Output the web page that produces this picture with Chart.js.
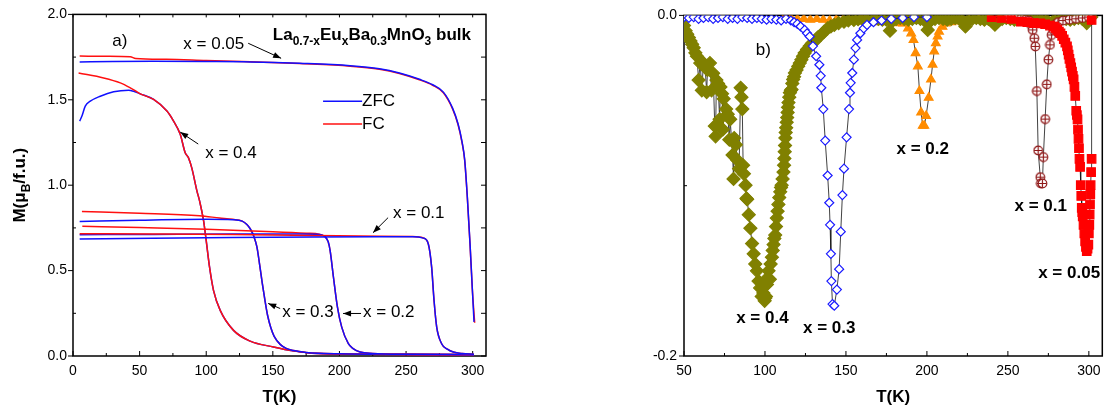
<!DOCTYPE html>
<html>
<head>
<meta charset="utf-8">
<title>La0.7-xEuxBa0.3MnO3 M(T) and dM/dT</title>
<script src="https://cdn.jsdelivr.net/npm/chart.js@4.4.1/dist/chart.umd.min.js"></script>
<style>
  html, body { margin: 0; padding: 0; background: #fff; }
  #wrap { position: relative; width: 1110px; height: 410px; overflow: hidden; }
  #magChart { position: absolute; left: 0; top: 0; }
  #derivChart { position: absolute; left: 540px; top: 0; }
</style>
</head>
<body>
<div id="wrap">
  <canvas id="magChart" width="500" height="410"></canvas>
  <canvas id="derivChart" width="570" height="410"></canvas>
</div>
<script>
// ---- panel a) magnetisation M(T), ZFC / FC ----
const tZfc005 = [5, 30, 60, 100, 133, 170, 208, 230, 245, 260, 270, 278, 285, 289, 292, 294, 296, 298, 299.7, 301];
const mZfc005 = [1.722, 1.724, 1.725, 1.724, 1.722, 1.714, 1.700, 1.682, 1.657, 1.620, 1.588, 1.545, 1.450, 1.360, 1.255, 1.150, 0.930, 0.660, 0.400, 0.200];
const tFc005 = [5, 25, 43, 47, 70, 100, 133, 170, 208, 230, 245, 260, 270, 278, 285, 289, 292, 294, 296, 298, 299.7, 301.5];
const mFc005 = [1.756, 1.755, 1.752, 1.742, 1.737, 1.730, 1.723, 1.712, 1.697, 1.679, 1.654, 1.617, 1.585, 1.541, 1.445, 1.355, 1.250, 1.145, 0.925, 0.655, 0.395, 0.195];

const tZfc01 = [5, 60, 120, 180, 230, 255, 263, 266.7, 269.2, 271, 273, 276.7, 281, 285.5, 292, 301];
const mZfc01 = [0.685, 0.690, 0.694, 0.697, 0.698, 0.698, 0.690, 0.656, 0.520, 0.325, 0.169, 0.072, 0.040, 0.023, 0.014, 0.010];
const tFc01 = [5, 60, 120, 180, 230, 255, 263, 266.7, 269.2, 271, 273, 276.7, 281, 285.5, 292, 301];
const mFc01 = [0.716, 0.714, 0.711, 0.706, 0.701, 0.699, 0.691, 0.656, 0.520, 0.325, 0.169, 0.072, 0.040, 0.023, 0.014, 0.010];

const tZfc02 = [5, 60, 120, 170, 185, 189, 191.5, 193, 195.5, 198.5, 201.7, 206.7, 210, 215.5, 225, 250, 301];
const mZfc02 = [0.710, 0.712, 0.714, 0.714, 0.712, 0.700, 0.670, 0.617, 0.461, 0.286, 0.169, 0.072, 0.045, 0.023, 0.015, 0.010, 0.008];
const tFc02 = [7, 50, 100, 150, 175, 185, 189, 191.5, 193, 195.5, 198.5, 201.7, 206.7, 210, 215.5, 225, 250, 301];
const mFc02 = [0.760, 0.752, 0.742, 0.728, 0.719, 0.713, 0.700, 0.670, 0.617, 0.461, 0.286, 0.169, 0.072, 0.045, 0.023, 0.015, 0.010, 0.008];

const tZfc03 = [5, 50, 100, 120, 127, 130.5, 133, 135.5, 138, 140, 142, 144, 146, 148.5, 151, 155.5, 160, 165.5, 175, 200, 250, 301];
const mZfc03 = [0.788, 0.795, 0.800, 0.798, 0.790, 0.770, 0.745, 0.705, 0.640, 0.540, 0.430, 0.330, 0.240, 0.165, 0.115, 0.068, 0.045, 0.032, 0.021, 0.013, 0.010, 0.008];
const tFc03 = [6.7, 50, 95, 110, 120, 127, 130.5, 133, 135.5, 138, 140, 142, 144, 146, 148.5, 151, 155.5, 160, 165.5, 175, 200, 250, 301];
const mFc03 = [0.846, 0.836, 0.821, 0.808, 0.800, 0.790, 0.770, 0.745, 0.705, 0.640, 0.540, 0.430, 0.330, 0.240, 0.165, 0.115, 0.068, 0.045, 0.032, 0.021, 0.013, 0.010, 0.008];

const tZfc04 = [5, 6.7, 9.2, 13, 20.5, 30.5, 41.7, 45.5, 50.5, 60.5, 70.5, 75.5, 80.5, 84.2, 86.7, 89.2, 93, 95, 98, 100, 102.5, 105.5, 110.5, 120.5, 133, 150.5, 165, 183, 220, 260, 301];
const mZfc04 = [1.375, 1.405, 1.463, 1.492, 1.521, 1.547, 1.556, 1.550, 1.535, 1.502, 1.434, 1.375, 1.298, 1.190, 1.160, 1.100, 0.967, 0.908, 0.792, 0.675, 0.520, 0.383, 0.267, 0.150, 0.087, 0.053, 0.030, 0.014, 0.010, 0.008, 0.006];
const tFc04 = [4.2, 23, 35.5, 43, 48, 50.5, 60.5, 70.5, 75.5, 80.5, 84.2, 86.7, 89.2, 93, 95, 98, 100, 102.5, 105.5, 110.5, 120.5, 133, 150.5, 165, 183, 220, 260, 301];
const mFc04 = [1.657, 1.628, 1.599, 1.570, 1.547, 1.535, 1.502, 1.434, 1.375, 1.298, 1.190, 1.160, 1.100, 0.967, 0.908, 0.792, 0.675, 0.520, 0.383, 0.267, 0.150, 0.087, 0.053, 0.030, 0.014, 0.010, 0.008, 0.006];

// ---- panel b) dM/dT ----
const tD005 = [240, 246, 252, 258, 262, 266, 270, 273, 276, 278.4, 279.5, 280.5, 281.5, 282.5, 283.5, 284.5, 285.5, 286.5, 287, 287.5, 288, 288.6, 289.1, 289.6, 290.1, 290.6, 291.1, 291.6, 292.2, 292.6, 293, 293.3, 293.6, 293.9, 294.2, 294.6, 295, 295.3, 295.6, 295.9, 296.2, 296.7, 297.2, 297.7, 298.2, 298.7, 299.2, 299.7, 300, 300.3, 300.5, 300.7, 300.9, 301.1, 301.4, 301.7, 301.7];
const dD005 = [-0.001, -0.0015, -0.002, -0.0037, -0.004, -0.0045, -0.0047, -0.0052, -0.006, -0.0066, -0.0075, -0.0085, -0.0095, -0.0105, -0.012, -0.014, -0.016, -0.0182, -0.0205, -0.023, -0.0255, -0.028, -0.0305, -0.033, -0.0355, -0.0376, -0.042, -0.0473, -0.056, -0.0585, -0.061, -0.067, -0.0725, -0.078, -0.0842, -0.089, -0.0997, -0.106, -0.113, -0.1155, -0.118, -0.123, -0.128, -0.1327, -0.136, -0.1385, -0.137, -0.1346, -0.128, -0.123, -0.117, -0.111, -0.105, -0.0997, -0.092, -0.0842, -0.0027];

const tD01 = [250, 254, 258, 261, 263, 264.3, 265.3, 266.3, 266.9, 267.9, 268.7, 270, 270.4, 271.3, 271.9, 273, 274, 275, 276, 277, 278, 279, 281, 284, 288, 292, 296, 300];
const dD01 = [-0.001, -0.0015, -0.002, -0.0025, -0.003, -0.0056, -0.0085, -0.0134, -0.0182, -0.0444, -0.0793, -0.095, -0.0987, -0.0987, -0.0832, -0.0609, -0.0405, -0.026, -0.0173, -0.0115, -0.0085, -0.0056, -0.004, -0.003, -0.0025, -0.002, -0.0015, -0.001];

const tD02 = [112, 116, 120, 124, 128, 132, 136, 140, 144, 148, 152, 156, 160, 164, 168, 172, 176, 180, 183, 185.3, 188.3, 190.3, 191.7, 193, 194.4, 195.4, 196.4, 197.4, 198.4, 199.5, 201.1, 202.5, 203.5, 204.5, 205.5, 206.6, 207.5, 209.6, 211.6, 215, 220, 226, 232, 238, 245];
const dD02 = [-0.001, -0.0015, -0.002, -0.002, -0.0025, -0.002, -0.0025, -0.003, -0.0025, -0.003, -0.003, -0.0035, -0.003, -0.0035, -0.004, -0.0035, -0.004, -0.004, -0.0045, -0.0047, -0.0076, -0.0105, -0.0144, -0.0221, -0.0299, -0.0444, -0.057, -0.0648, -0.0648, -0.059, -0.0483, -0.0376, -0.0289, -0.0211, -0.0163, -0.0124, -0.0095, -0.0066, -0.0047, -0.004, -0.0035, -0.003, -0.0025, -0.002, -0.0015];

const tD03 = [50, 53, 56, 59, 62, 65, 68, 71, 74, 77, 80, 83, 86, 89, 92, 95, 98, 101, 104, 107, 110, 113, 116, 118, 120, 122, 124.5, 126, 127.6, 129.6, 131.6, 133.6, 134.4, 134.8, 136, 137.2, 138.7, 139.7, 140.2, 140.7, 141, 141.7, 142.8, 144.4, 145.8, 146.8, 147.8, 148.8, 150.4, 151.9, 152.5, 152.9, 153.9, 154.9, 155.9, 156.9, 158.9, 161, 163, 167, 172, 178, 185, 192, 200];
const dD03 = [-0.001, -0.0015, -0.001, -0.002, -0.0015, -0.001, -0.002, -0.0015, -0.001, -0.002, -0.0015, -0.002, -0.001, -0.0015, -0.002, -0.0015, -0.002, -0.0025, -0.002, -0.0025, -0.003, -0.002, -0.003, -0.004, -0.005, -0.0065, -0.0085, -0.0105, -0.0124, -0.018, -0.024, -0.029, -0.0355, -0.0425, -0.055, -0.0735, -0.094, -0.11, -0.123, -0.14, -0.156, -0.1695, -0.1705, -0.161, -0.149, -0.127, -0.1055, -0.09, -0.0716, -0.055, -0.0454, -0.0396, -0.0338, -0.026, -0.0192, -0.0144, -0.0105, -0.0076, -0.0056, -0.004, -0.003, -0.002, -0.0015, -0.001, -0.001];

// x = 0.4: noisy left branch, dense right branch, then the flat band near zero
const tD04 = [50, 51, 52, 53, 54, 55, 56, 57, 58, 59, 60, 61, 62, 63, 64, 64.5, 66, 67, 68, 69, 69.5, 70, 71, 72, 72.5, 73.5, 74, 74.5, 76, 77, 78, 78.5, 80, 80.6, 81, 82, 83, 84, 85, 85.5, 86, 86.5, 87, 88, 88.6, 89, 90, 91, 92, 93, 94, 95, 96, 97, 98, 99, 99.8,
  100.2, 100.6, 101.2, 101.7, 102.2, 103, 103.5, 104.3, 104.8, 105.3, 105.8, 106.3, 106.8, 107.3, 107.8, 108.3, 108.8, 109.4, 109.9, 110.3, 110.9, 111.4, 111.8, 112, 112.2, 112.4, 112.6, 112.8, 113.1, 113.4, 113.7, 114, 114.2, 114.5, 115, 115.4, 116, 116.4, 116.9, 117.4, 118, 118.5, 119.5, 120.5, 121.5, 122.5, 123.5, 124.5, 126, 127.6, 129, 130.6, 132.5, 134.6, 136.5, 138.7, 140.7, 142.8, 145.5, 148.8, 151.5, 154.9,
  157.5, 160, 162.5, 165, 167.5, 170, 172.5, 175, 177.2, 179, 181, 183.5, 186, 188.5, 191, 193.5, 196, 198.5, 200.5, 202.5, 205, 207.5, 210, 212.5, 215, 217.5, 220, 222, 223.8, 225.5, 228, 230.5, 233, 235.5, 238, 240, 242, 244, 246.5, 249, 251.5, 254, 256.5, 259, 261.5, 264, 266.5, 269, 271.5, 274, 276.4, 278.5, 281, 283.5, 286, 288.5, 291, 293.5, 296, 298.7, 301.5];
const dD04 = [-0.006, -0.009, -0.011, -0.013, -0.015, -0.017, -0.019, -0.022, -0.024, -0.038, -0.028, -0.044, -0.028, -0.03, -0.045, -0.032, -0.028, -0.044, -0.034, -0.065, -0.071, -0.038, -0.04, -0.061, -0.042, -0.046, -0.067, -0.049, -0.055, -0.058, -0.073, -0.061, -0.082, -0.096, -0.072, -0.076, -0.085, -0.09, -0.0425, -0.048, -0.055, -0.088, -0.093, -0.0997, -0.1075, -0.108, -0.117, -0.125, -0.134, -0.14, -0.146, -0.15, -0.156, -0.16, -0.165, -0.163, -0.1676,
  -0.166, -0.165, -0.158, -0.154, -0.15, -0.155, -0.146, -0.142, -0.138, -0.1346, -0.131, -0.129, -0.124, -0.119, -0.115, -0.111, -0.107, -0.1036, -0.101, -0.0997, -0.096, -0.092, -0.088, -0.084, -0.08, -0.0764, -0.072, -0.0687, -0.066, -0.0628, -0.06, -0.057, -0.054, -0.0512, -0.048, -0.0454, -0.044, -0.0435, -0.04, -0.0376, -0.036, -0.0338, -0.032, -0.0299, -0.028, -0.026, -0.024, -0.0221, -0.02, -0.018, -0.0165, -0.0153, -0.013, -0.0115, -0.0095, -0.0076, -0.0065, -0.0056, -0.0045, -0.0037, -0.003, -0.0027,
  -0.0022, -0.002, -0.0025, -0.0015, -0.002, -0.002, -0.0025, -0.0025, -0.009, -0.003, -0.002, -0.0015, -0.002, -0.0025, -0.002, -0.0015, -0.002, -0.003, -0.0085, -0.003, -0.002, -0.0015, -0.002, -0.0025, -0.002, -0.0015, -0.002, -0.003, -0.0065, -0.003, -0.002, -0.0015, -0.002, -0.0025, -0.002, -0.003, -0.0055, -0.003, -0.002, -0.0015, -0.002, -0.0025, -0.002, -0.0015, -0.002, -0.0025, -0.002, -0.0015, -0.002, -0.003, -0.0055, -0.003, -0.002, -0.0015, -0.002, -0.0025, -0.002, -0.0015, -0.002, -0.0045, -0.001];

// tick positions
const aMajorT = [0, 50, 100, 150, 200, 250, 300];
const aMinorT = [25, 75, 125, 175, 225, 275];
const aMajorM = [0, 0.5, 1.0, 1.5, 2.0];
const aMinorM = [0.25, 0.75, 1.25, 1.75];
const bMajorT = [50, 100, 150, 200, 250, 300];
const bMinorT = [75, 125, 175, 225, 275];
const bMajorD = [0, -0.2];
const bMinorD = [-0.1];

const FONT = "'Liberation Sans', Arial, Helvetica, sans-serif";
Chart.defaults.font.family = FONT;
Chart.defaults.color = '#000';

const pts = (xs, ys) => xs.map((x, i) => ({ x, y: ys[i] }));

const curve = (xs, ys, color) => ({
  data: pts(xs, ys),
  showLine: true,
  borderColor: color,
  borderWidth: 1.5,
  pointRadius: 0,
  cubicInterpolationMode: 'monotone',
  fill: false
});

const marks = (xs, ys, style, fillColor, edgeColor, radius, order) => ({
  data: pts(xs, ys),
  showLine: true,
  borderColor: '#111',
  borderWidth: 0.8,
  pointStyle: style,
  pointRadius: radius,
  pointBackgroundColor: fillColor,
  pointBorderColor: edgeColor,
  pointBorderWidth: 1.2,
  order: order
});

// circle with a cross, used for x = 0.1
function crossCircle() {
  const c = document.createElement('canvas');
  c.width = 11; c.height = 11;
  const g = c.getContext('2d');
  g.fillStyle = '#fff';
  g.strokeStyle = '#8e1616';
  g.lineWidth = 1.2;
  g.beginPath(); g.arc(5.5, 5.5, 4.3, 0, Math.PI * 2); g.fill(); g.stroke();
  g.beginPath();
  g.moveTo(1.5, 5.5); g.lineTo(9.5, 5.5);
  g.moveTo(5.5, 1.5); g.lineTo(5.5, 9.5);
  g.stroke();
  return c;
}

// frame + inward/outward ticks like the original plot
function framePlugin(cfg) {
  return {
    id: 'frame',
    beforeDatasetsDraw(chart) {
      const { ctx, chartArea: a } = chart;
      const xs = chart.scales.x, ys = chart.scales.y;
      const line = (x1, y1, x2, y2) => { ctx.beginPath(); ctx.moveTo(x1, y1); ctx.lineTo(x2, y2); ctx.stroke(); };
      ctx.save();
      ctx.strokeStyle = '#000';
      ctx.lineWidth = 1;
      cfg.xMajor.forEach(v => { const p = xs.getPixelForValue(v); line(p, a.bottom, p, a.bottom - 5); });
      cfg.xMinor.forEach(v => { const p = xs.getPixelForValue(v); line(p, a.bottom, p, a.bottom - 3); });
      cfg.yMajor.forEach(v => { const p = ys.getPixelForValue(v); line(a.left, p, a.left - 5, p); });
      cfg.yMinor.forEach(v => { const p = ys.getPixelForValue(v); line(a.left, p, a.left + 3, p); });
      if (cfg.mirror) {
        cfg.xMajor.concat(cfg.xMinor).forEach(v => { const p = xs.getPixelForValue(v); line(p, a.top, p, a.top + 3); });
        cfg.yMajor.concat(cfg.yMinor).forEach(v => { const p = ys.getPixelForValue(v); line(a.right, p, a.right - 5, p); });
      }
      ctx.lineWidth = 1.5;
      ctx.strokeRect(a.left, a.top, a.right - a.left, a.bottom - a.top);
      ctx.restore();
    }
  };
}

function drawRich(ctx, segs, x, y, size, subSize, weight) {
  let cx = x;
  segs.forEach(s => {
    ctx.font = `${weight} ${s.sub ? subSize : size}px ${FONT}`;
    ctx.fillText(s.t, cx, s.sub ? y + size * 0.3 : y);
    cx += ctx.measureText(s.t).width;
  });
  return cx - x;
}

function richWidth(ctx, segs, size, subSize, weight) {
  let w = 0;
  segs.forEach(s => {
    ctx.font = `${weight} ${s.sub ? subSize : size}px ${FONT}`;
    w += ctx.measureText(s.t).width;
  });
  return w;
}

function drawArrow(ctx, x1, y1, x2, y2) {
  ctx.beginPath(); ctx.moveTo(x1, y1); ctx.lineTo(x2, y2); ctx.stroke();
  const ang = Math.atan2(y2 - y1, x2 - x1), L = 8, W = 3;
  const c = Math.cos(ang), s = Math.sin(ang);
  ctx.beginPath();
  ctx.moveTo(x2, y2);
  ctx.lineTo(x2 - L * c + W * s, y2 - L * s - W * c);
  ctx.lineTo(x2 - L * c - W * s, y2 - L * s + W * c);
  ctx.closePath();
  ctx.fill();
}

// labels, arrows, legend, axis titles
function notesPlugin(cfg) {
  return {
    id: 'notes',
    afterDatasetsDraw(chart) {
      const { ctx, chartArea: a } = chart;
      const xs = chart.scales.x, ys = chart.scales.y;
      const px = v => xs.getPixelForValue(v), py = v => ys.getPixelForValue(v);
      ctx.save();
      ctx.fillStyle = '#000';
      ctx.strokeStyle = '#000';
      ctx.lineWidth = 1;
      ctx.textBaseline = 'middle';
      ctx.textAlign = 'left';
      cfg.texts.forEach(t => {
        ctx.font = `${t.bold ? 'bold ' : ''}17px ${FONT}`;
        ctx.fillText(t.text, px(t.x), py(t.y));
      });
      cfg.arrows.forEach(r => drawArrow(ctx, px(r.x1), py(r.y1), px(r.x2), py(r.y2)));
      (cfg.legend || []).forEach(l => {
        ctx.strokeStyle = l.color;
        ctx.lineWidth = 1.5;
        ctx.beginPath(); ctx.moveTo(px(l.x1), py(l.y)); ctx.lineTo(px(l.x2), py(l.y)); ctx.stroke();
        ctx.font = `17px ${FONT}`;
        ctx.fillText(l.text, px(l.x2), py(l.y));
      });
      if (cfg.formula) {
        ctx.textBaseline = 'alphabetic';
        drawRich(ctx, cfg.formula.segs, px(cfg.formula.x), py(cfg.formula.y) + 6, 17, 12, 'bold');
      }
      // axis titles
      ctx.textBaseline = 'middle';
      ctx.textAlign = 'center';
      ctx.font = `bold 17px ${FONT}`;
      ctx.fillText('T(K)', (a.left + a.right) / 2, a.bottom + 41);
      ctx.save();
      ctx.translate(cfg.yTitleX, (a.top + a.bottom) / 2);
      ctx.rotate(-Math.PI / 2);
      ctx.textAlign = 'left';
      ctx.textBaseline = 'alphabetic';
      const w = richWidth(ctx, cfg.yTitle, 17, 12, 'bold');
      drawRich(ctx, cfg.yTitle, -w / 2, 6, 17, 12, 'bold');
      ctx.restore();
      ctx.restore();
    }
  };
}

const baseScale = (min, max, step, pad, fmt, fit) => ({
  type: 'linear',
  min, max,
  ticks: { stepSize: step, includeBounds: false, padding: pad, maxRotation: 0, font: { size: 14 }, callback: fmt },
  grid: { display: false, drawTicks: false },
  border: { display: false },
  afterFit: fit
});

// ---- chart a) ----
new Chart(document.getElementById('magChart'), {
  type: 'scatter',
  data: {
    datasets: [
      curve(tZfc005, mZfc005, '#1010ff'),
      curve(tFc005, mFc005, '#ff1010'),
      curve(tZfc01, mZfc01, '#1010ff'),
      curve(tFc01, mFc01, '#ff1010'),
      curve(tZfc02, mZfc02, '#1010ff'),
      curve(tFc02, mFc02, '#ff1010'),
      curve(tZfc03, mZfc03, '#1010ff'),
      curve(tFc03, mFc03, '#ff1010'),
      curve(tFc04, mFc04, '#ff1010'),
      curve(tZfc04, mZfc04, '#1010ff')
    ]
  },
  options: {
    responsive: false,
    animation: false,
    events: [],
    layout: { padding: { top: 13, right: 14, left: 0, bottom: 0 } },
    plugins: { legend: { display: false }, tooltip: { enabled: false } },
    scales: {
      x: baseScale(0, 310, 50, 7, v => String(v), s => { s.height = 54; }),
      y: baseScale(0, 2, 0.5, 6, v => v.toFixed(1), s => { s.width = 73; })
    }
  },
  plugins: [
    framePlugin({ xMajor: aMajorT, xMinor: aMinorT, yMajor: aMajorM, yMinor: aMinorM, mirror: true }),
    notesPlugin({
      texts: [
        { x: 29.5, y: 1.84, text: 'a)' },
        { x: 82.8, y: 1.825, text: 'x = 0.05' },
        { x: 99.2, y: 1.189, text: 'x = 0.4' },
        { x: 240.2, y: 0.833, text: 'x = 0.1' },
        { x: 157, y: 0.255, text: 'x = 0.3' },
        { x: 217.7, y: 0.255, text: 'x = 0.2' }
      ],
      arrows: [
        { x1: 131.5, y1: 1.831, x2: 156.2, y2: 1.743 },
        { x1: 94, y1: 1.241, x2: 80.5, y2: 1.311 },
        { x1: 236.5, y1: 0.81, x2: 225.2, y2: 0.722 },
        { x1: 155.5, y1: 0.278, x2: 146.5, y2: 0.308 },
        { x1: 216.2, y1: 0.249, x2: 202.7, y2: 0.249 }
      ],
      legend: [
        { x1: 187.7, x2: 217, y: 1.492, color: '#1010ff', text: 'ZFC' },
        { x1: 187.7, x2: 217, y: 1.358, color: '#ff1010', text: 'FC' }
      ],
      formula: {
        x: 150, y: 1.883,
        segs: [{ t: 'La' }, { t: '0.7-x', sub: true }, { t: 'Eu' }, { t: 'x', sub: true }, { t: 'Ba' }, { t: '0.3', sub: true }, { t: 'MnO' }, { t: '3', sub: true }, { t: ' bulk' }]
      },
      yTitleX: 19,
      yTitle: [{ t: 'M(\u03bc' }, { t: 'B', sub: true }, { t: '/f.u.)' }]
    })
  ]
});

// ---- chart b) ----
new Chart(document.getElementById('derivChart'), {
  type: 'scatter',
  data: {
    datasets: [
      marks(tD03, dD03, 'rectRot', '#ffffff', '#1a1aff', 4.5, 0),
      marks(tD005, dD005, 'rect', '#ff0000', '#ff0000', 6, 1),
      marks(tD01, dD01, crossCircle(), '#ffffff', '#8e1616', 5, 2),
      marks(tD04, dD04, 'rectRot', '#808000', '#808000', 6.5, 3),
      marks(tD02, dD02, 'triangle', '#ff8c00', '#ff8c00', 5, 4)
    ]
  },
  options: {
    responsive: false,
    animation: false,
    events: [],
    layout: { padding: { top: 12, right: 1, left: 0, bottom: 0 } },
    plugins: { legend: { display: false }, tooltip: { enabled: false } },
    scales: {
      x: baseScale(50, 308.3, 50, 7, v => String(v), s => { s.height = 54; }),
      y: baseScale(-0.2, 0, 0.2, 7, v => (Math.abs(v) < 1e-9 ? '0.0' : v.toFixed(1)), s => { s.width = 144; })
    }
  },
  plugins: [
    framePlugin({ xMajor: bMajorT, xMinor: bMinorT, yMajor: bMajorD, yMinor: bMinorD, mirror: false }),
    notesPlugin({
      texts: [
        { x: 94.3, y: -0.0204, text: 'b)' },
        { x: 82.2, y: -0.178, text: 'x = 0.4', bold: true },
        { x: 123.5, y: -0.184, text: 'x = 0.3', bold: true },
        { x: 181.2, y: -0.0786, text: 'x = 0.2', bold: true },
        { x: 254.1, y: -0.1123, text: 'x = 0.1', bold: true },
        { x: 268.7, y: -0.1513, text: 'x = 0.05', bold: true }
      ],
      arrows: [],
      yTitleX: 638,
      yTitle: [{ t: 'dM/dT' }]
    })
  ]
});
</script>
</body>
</html>
